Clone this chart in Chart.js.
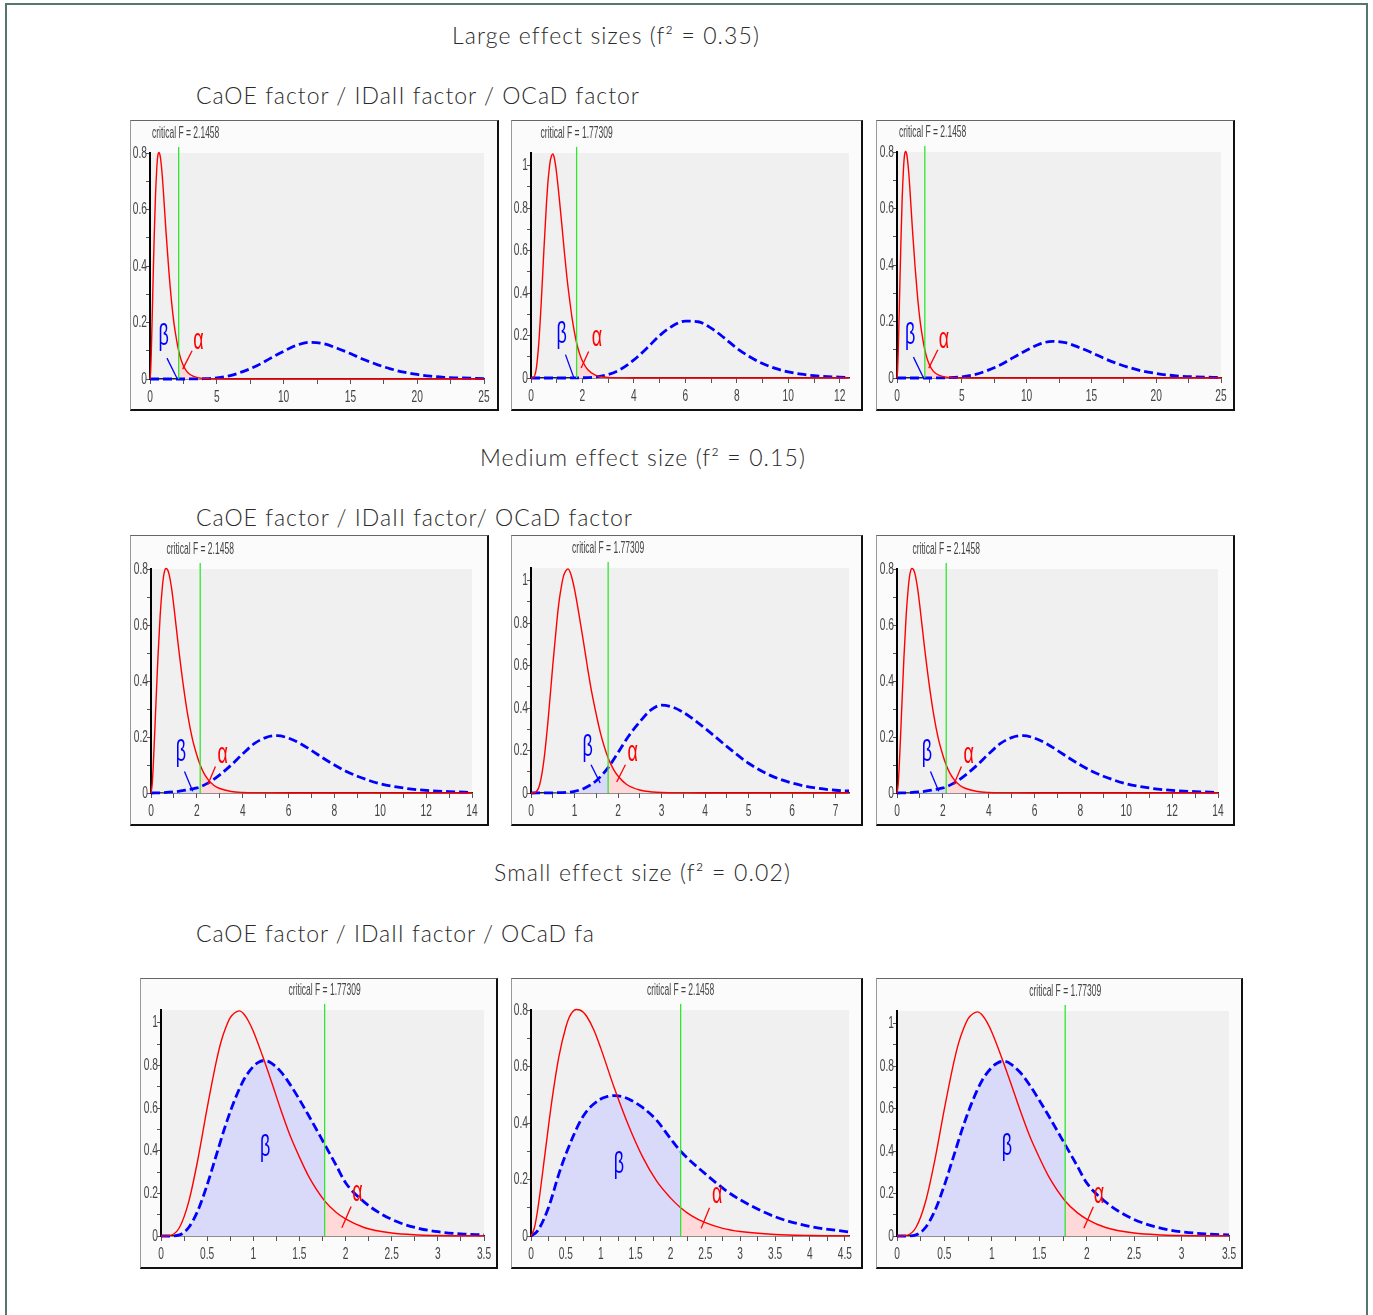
<!DOCTYPE html>
<html>
<head>
<meta charset="utf-8">
<script src="https://cdn.jsdelivr.net/npm/chart.js@4.4.1/dist/chart.umd.min.js"></script>
<style>
  body { margin: 0; background: #fff; width: 1373px; height: 1315px; overflow: hidden; position: relative; font-family: Lato, 'Open Sans', sans-serif; }
  .frame { position: absolute; left: 5px; top: 3px; width: 1359px; height: 1400px; border: 2px solid #55766c; border-bottom: none; }
  .title { position: absolute; white-space: nowrap; font-size: 23px; font-weight: 300; color: #2b2b2b; line-height: 24px; }
  .panel { position: absolute; box-sizing: border-box; background: #fbfbfb; border-top: 1px solid #666; border-left: 1px solid #999; border-right: 2px solid #111; border-bottom: 2px solid #111; }
  .panel canvas { position: absolute; left: 0; top: 0; }
</style>
</head>
<body>
<div class="frame"></div>
<script>
// critical F values
const critA = 2.1458;
const critB = 1.77309;

// central F (H0), critical F = 2.1458
const h0Ax = [0, 0.05, 0.1, 0.2, 0.3, 0.4, 0.5, 0.55, 0.6, 0.65, 0.7, 0.75, 0.8, 0.9, 1.0, 1.2, 1.4, 1.6, 1.8, 2.0, 2.1458, 2.3, 2.5, 2.75, 3.0, 3.5, 4.0, 4.6, 6, 10, 14, 25];
const h0Ay = [0, 0.03, 0.10, 0.29, 0.48, 0.635, 0.74, 0.775, 0.795, 0.802, 0.800, 0.792, 0.777, 0.73, 0.665, 0.52, 0.39, 0.28, 0.195, 0.135, 0.10, 0.072, 0.047, 0.027, 0.016, 0.0055, 0.0018, 0.0005, 0, 0, 0, 0];

// central F (H0), critical F = 1.77309
const h0Bx = [0, 0.1, 0.2, 0.3, 0.4, 0.5, 0.6, 0.65, 0.7, 0.75, 0.8, 0.85, 0.9, 0.95, 1.0, 1.1, 1.2, 1.3, 1.4, 1.5, 1.6, 1.77309, 1.9, 2.0, 2.2, 2.5, 2.8, 3.0, 3.5, 4, 5, 7.35, 12.4];
const h0By = [0, 0.003, 0.04, 0.16, 0.36, 0.60, 0.82, 0.91, 0.975, 1.024, 1.047, 1.056, 1.04, 1.006, 0.96, 0.845, 0.72, 0.59, 0.47, 0.37, 0.28, 0.165, 0.11, 0.08, 0.04, 0.014, 0.005, 0.0025, 0.0006, 0.0002, 0, 0, 0];

// noncentral F (H1) curves
const largeAx = [0, 1, 2, 2.1458, 3, 4, 5, 6, 7, 8, 9, 10, 11, 12, 13, 14, 15, 16, 17, 18, 19, 20, 21, 22, 23, 25];
const largeAy = [0, 0, 0, 0, 0.0002, 0.001, 0.004, 0.012, 0.027, 0.047, 0.073, 0.098, 0.12, 0.13, 0.125, 0.109, 0.09, 0.069, 0.051, 0.036, 0.024, 0.016, 0.01, 0.006, 0.004, 0.0015];

const largeBx = [0, 1, 1.77309, 2, 2.5, 3, 3.5, 4, 4.5, 5, 5.5, 6, 6.5, 7, 7.5, 8, 8.5, 9, 9.5, 10, 10.5, 11, 12, 12.4];
const largeBy = [0, 0, 0.0005, 0.001, 0.005, 0.016, 0.042, 0.085, 0.14, 0.2, 0.245, 0.268, 0.265, 0.235, 0.19, 0.14, 0.1, 0.068, 0.045, 0.029, 0.018, 0.011, 0.004, 0.003];

const mediumAx = [0, 0.5, 1, 1.5, 2, 2.1458, 2.5, 3, 3.5, 4, 4.5, 5, 5.5, 6, 6.5, 7, 7.5, 8, 8.5, 9, 10, 11, 12, 13, 14];
const mediumAy = [0, 0.001, 0.004, 0.01, 0.018, 0.022, 0.036, 0.065, 0.1, 0.14, 0.176, 0.198, 0.205, 0.196, 0.177, 0.152, 0.125, 0.1, 0.078, 0.06, 0.033, 0.018, 0.009, 0.005, 0.002];

const mediumBx = [0, 0.5, 1, 1.25, 1.5, 1.77309, 2, 2.25, 2.5, 2.75, 3, 3.25, 3.5, 3.75, 4, 4.5, 5, 5.5, 6, 6.5, 7, 7.35];
const mediumBy = [0, 0.001, 0.008, 0.025, 0.058, 0.12, 0.19, 0.27, 0.335, 0.39, 0.414, 0.405, 0.38, 0.345, 0.305, 0.22, 0.14, 0.083, 0.047, 0.025, 0.013, 0.009];

const smallAx = [0, 0.1, 0.25, 0.4, 0.5, 0.75, 1.0, 1.1, 1.2, 1.3, 1.4, 1.6, 1.8, 2.0, 2.1458, 2.5, 2.8, 3.0, 3.5, 4.0, 4.6];
const smallAy = [0, 0.02, 0.1, 0.22, 0.29, 0.425, 0.485, 0.494, 0.497, 0.494, 0.485, 0.455, 0.41, 0.345, 0.3, 0.22, 0.16, 0.128, 0.068, 0.034, 0.013];

const smallBx = [0, 0.1, 0.2, 0.3, 0.4, 0.5, 0.6, 0.7, 0.8, 0.9, 1.0, 1.05, 1.1, 1.15, 1.2, 1.3, 1.4, 1.5, 1.6, 1.77309, 1.9, 2.0, 2.2, 2.4, 2.6, 2.8, 3.0, 3.25, 3.5];
const smallBy = [0, 0, 0.005, 0.04, 0.12, 0.24, 0.38, 0.52, 0.64, 0.735, 0.795, 0.813, 0.822, 0.821, 0.81, 0.77, 0.71, 0.64, 0.565, 0.43, 0.33, 0.25, 0.16, 0.10, 0.06, 0.035, 0.02, 0.01, 0.005];

// page titles
const titles = [
  { text: 'Large effect sizes (f\u00b2 = 0.35)', left: 452, cy: 35, w: 306 },
  { text: 'CaOE factor / IDaII factor / OCaD factor', left: 196, cy: 95, w: 443 },
  { text: 'Medium effect size (f\u00b2 = 0.15)', left: 480, cy: 457, w: 324 },
  { text: 'CaOE factor / IDaII factor/ OCaD factor', left: 196, cy: 517, w: 436 },
  { text: 'Small effect size (f\u00b2 = 0.02)', left: 494, cy: 872, w: 295 },
  { text: 'CaOE factor / IDaII factor / OCaD fa', left: 196, cy: 933, w: 398 }
];

// panel layout: box and plot area in page pixels, greek labels in data units
const bigA = { beta: { x: 1.02, y: 0.142, line: [1.27, 0.074, 2.03, 0.002] }, alpha: { x: 3.62, y: 0.13, line: [3.15, 0.10, 2.45, 0.035] } };
const medA = { beta: { x: 1.31, y: 0.136, line: [1.46, 0.077, 1.82, 0.006] }, alpha: { x: 3.13, y: 0.13, line: [2.81, 0.095, 2.48, 0.03] } };
const panels = [
  { box: [130, 120, 499, 411], plot: [150, 153, 484, 379], xMax: 25, xStep: 2.5, xMajor: 5, yMax: 0.8, crit: critA, h0: [h0Ax, h0Ay], h1: [largeAx, largeAy], ...bigA },
  { box: [511, 120, 863, 411], plot: [531, 153, 849, 378], xMax: 12.36, xStep: 1, xMajor: 2, yMax: 1.06, crit: critB, h0: [h0Bx, h0By], h1: [largeBx, largeBy],
    beta: { x: 1.19, y: 0.196, line: [1.34, 0.11, 1.66, 0.003] }, alpha: { x: 2.56, y: 0.18, line: [2.24, 0.125, 1.95, 0.047] } },
  { box: [876, 120, 1235, 411], plot: [897, 152, 1221, 378], xMax: 25, xStep: 2.5, xMajor: 5, yMax: 0.8, crit: critA, h0: [h0Ax, h0Ay], h1: [largeAx, largeAy], ...bigA },
  { box: [130, 535, 489, 826], plot: [151, 569, 472, 793], xMax: 14, xStep: 1, xMajor: 2, yMax: 0.8, crit: critA, h0: [h0Ax, h0Ay], h1: [mediumAx, mediumAy], ...medA },
  { box: [511, 535, 863, 826], plot: [531, 568, 849, 793], xMax: 7.31, xStep: 0.5, xMajor: 1, yMax: 1.06, crit: critB, h0: [h0Bx, h0By], h1: [mediumBx, mediumBy],
    beta: { x: 1.30, y: 0.204, line: [1.38, 0.133, 1.59, 0.047] }, alpha: { x: 2.34, y: 0.18, line: [2.17, 0.133, 1.97, 0.052] } },
  { box: [876, 535, 1235, 826], plot: [897, 569, 1218, 793], xMax: 14, xStep: 1, xMajor: 2, yMax: 0.8, crit: critA, h0: [h0Ax, h0Ay], h1: [mediumAx, mediumAy], ...medA },
  { box: [140, 978, 498, 1269], plot: [161, 1010, 484, 1236], xMax: 3.5, xStep: 0.25, xMajor: 0.5, yMax: 1.06, crit: critB, h0: [h0Bx, h0By], h1: [smallBx, smallBy],
    beta: { x: 1.13, y: 0.405 }, alpha: { x: 2.13, y: 0.193, line: [2.06, 0.138, 1.96, 0.039] } },
  { box: [511, 978, 863, 1269], plot: [531, 1010, 849, 1236], xMax: 4.56, xStep: 0.25, xMajor: 0.5, yMax: 0.8, crit: critA, h0: [h0Ax, h0Ay], h1: [smallAx, smallAy],
    beta: { x: 1.26, y: 0.246 }, alpha: { x: 2.67, y: 0.14, line: [2.56, 0.10, 2.44, 0.027] } },
  { box: [876, 978, 1243, 1269], plot: [897, 1011, 1229, 1236], xMax: 3.5, xStep: 0.25, xMajor: 0.5, yMax: 1.06, crit: critB, h0: [h0Bx, h0By], h1: [smallBx, smallBy],
    beta: { x: 1.16, y: 0.41 }, alpha: { x: 2.13, y: 0.185, line: [2.07, 0.138, 1.97, 0.036] } }
];

const FONT = "'Liberation Sans', Arial, sans-serif";

titles.forEach(t => {
  const d = document.createElement('div');
  d.className = 'title';
  d.textContent = t.text;
  d.style.left = t.left + 'px';
  d.style.top = (t.cy - 12) + 'px';
  document.body.appendChild(d);
  const w = d.getBoundingClientRect().width;
  d.style.letterSpacing = ((t.w - w) / (t.text.length - 1)) + 'px';
});

function toPoints(xs, ys, keep) {
  const out = [];
  xs.forEach((x, i) => { if (!keep || keep(x)) out.push({ x: x, y: ys[i] }); });
  return out;
}

function condText(ctx, s, x, y, size, color, sx, align) {
  ctx.save();
  ctx.font = size + 'px ' + FONT;
  ctx.fillStyle = color;
  ctx.textBaseline = 'middle';
  ctx.textAlign = align;
  ctx.translate(x, y);
  ctx.scale(sx, 1);
  ctx.fillText(s, 0, 0);
  ctx.restore();
}

function fmt(v) {
  return String(Math.round(v * 100) / 100);
}

function isMajor(v, step) {
  return Math.abs(v / step - Math.round(v / step)) < 1e-6;
}

function gpPlugin(p) {
  return {
    id: 'gpower',
    beforeDraw(chart) {
      const a = chart.chartArea, ctx = chart.ctx;
      ctx.save();
      ctx.fillStyle = '#f0f0f0';
      ctx.fillRect(a.left, a.top, a.right - a.left, a.bottom - a.top);
      ctx.restore();
    },
    afterDraw(chart) {
      const a = chart.chartArea, ctx = chart.ctx;
      const xs = chart.scales.x, ys = chart.scales.y;
      // tick labels
      xs.ticks.forEach(t => {
        if (isMajor(t.value, p.xMajor)) condText(ctx, fmt(t.value), xs.getPixelForValue(t.value), a.bottom + 18, 17, '#444', 0.6, 'center');
      });
      ys.ticks.forEach(t => {
        if (isMajor(t.value, 0.2)) condText(ctx, fmt(t.value), a.left - 3, ys.getPixelForValue(t.value), 17, '#444', 0.6, 'right');
      });
      // critical F caption
      const cap = 'critical F = ' + p.crit;
      ctx.save();
      ctx.font = '17px ' + FONT;
      const cw = ctx.measureText(cap).width * 0.5;
      ctx.restore();
      const cx = Math.max(xs.getPixelForValue(p.crit), a.left + 2 + cw / 2);
      condText(ctx, cap, cx, a.top - 20, 17, '#444', 0.5, 'center');
      // beta / alpha labels
      [['beta', '\u03b2', '#0000ff'], ['alpha', '\u03b1', '#ff0000']].forEach(([k, ch, col]) => {
        const g = p[k];
        condText(ctx, ch, xs.getPixelForValue(g.x), ys.getPixelForValue(g.y) - 2, 30, col, 0.6, 'center');
        if (g.line) {
          ctx.save();
          ctx.strokeStyle = col;
          ctx.lineWidth = 1.3;
          ctx.beginPath();
          ctx.moveTo(xs.getPixelForValue(g.line[0]), ys.getPixelForValue(g.line[1]));
          ctx.lineTo(xs.getPixelForValue(g.line[2]), ys.getPixelForValue(g.line[3]));
          ctx.stroke();
          ctx.restore();
        }
      });
    }
  };
}

panels.forEach(p => {
  const [bl, bt, br, bb] = p.box;
  const [pl, pt, pr, pb] = p.plot;
  const div = document.createElement('div');
  div.className = 'panel';
  div.style.left = bl + 'px';
  div.style.top = bt + 'px';
  div.style.width = (br - bl) + 'px';
  div.style.height = (bb - bt) + 'px';
  const cw = br - bl - 3, ch = bb - bt - 3;
  const ox = bl + 1, oy = bt + 1;
  const cv = document.createElement('canvas');
  cv.width = cw; cv.height = ch;
  cv.style.width = cw + 'px'; cv.style.height = ch + 'px';
  div.appendChild(cv);
  document.body.appendChild(div);

  const clip = { left: 2, right: 0, top: 8, bottom: 3 };
  const curve = { pointRadius: 0, cubicInterpolationMode: 'monotone', clip: clip };

  new Chart(cv, {
    type: 'line',
    data: {
      datasets: [
        { data: [{ x: p.crit, y: 0 }, { x: p.crit, y: p.yMax * 1.027 }], borderColor: '#2ee82e', borderWidth: 1.3, pointRadius: 0, tension: 0, clip: false },
        { data: toPoints(p.h0[0], p.h0[1]), borderColor: '#ff0000', borderWidth: 1.4, ...curve },
        { data: toPoints(p.h1[0], p.h1[1]), borderColor: '#0000ff', borderWidth: 2.8, borderDash: [9, 4], ...curve },
        { data: toPoints(p.h0[0], p.h0[1], x => x >= p.crit), borderColor: 'transparent', borderWidth: 0, backgroundColor: '#ffd9d9', fill: 'origin', ...curve },
        { data: toPoints(p.h1[0], p.h1[1], x => x <= p.crit), borderColor: 'transparent', borderWidth: 0, backgroundColor: '#d9d9f9', fill: 'origin', ...curve }
      ]
    },
    options: {
      responsive: false,
      animation: false,
      events: [],
      layout: { padding: { left: 0, top: pt - oy, right: ox + cw - pr, bottom: 0 } },
      plugins: { legend: { display: false }, tooltip: { enabled: false } },
      scales: {
        x: {
          type: 'linear', min: 0, max: p.xMax,
          ticks: { display: false, stepSize: p.xStep, includeBounds: false },
          grid: { display: true, drawOnChartArea: false, drawTicks: true, tickLength: 5, color: '#555', lineWidth: 1 },
          border: { display: true, color: '#222', width: 1.5 },
          afterFit(scale) { scale.height = oy + ch - pb; }
        },
        y: {
          type: 'linear', min: 0, max: p.yMax,
          ticks: { display: false, stepSize: 0.1, includeBounds: false },
          grid: { display: true, drawOnChartArea: false, drawTicks: true, tickLength: 4, color: '#555', lineWidth: 1 },
          border: { display: true, color: '#000', width: 2 },
          afterFit(scale) { scale.width = pl - ox; }
        }
      }
    },
    plugins: [gpPlugin(p)]
  });
});
</script>
</body>
</html>
